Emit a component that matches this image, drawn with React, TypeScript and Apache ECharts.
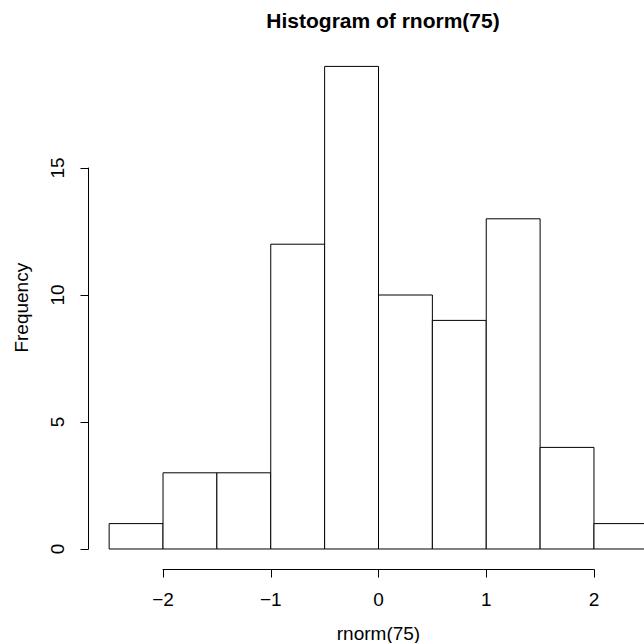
import React, { useEffect, useRef } from "react";
import * as echarts from "echarts";

const breaks = [-2.5, -2, -1.5, -1, -0.5, 0, 0.5, 1, 1.5, 2, 2.5];
const counts = [1, 3, 3, 12, 19, 10, 9, 13, 4, 1];
const xTicks = [-2, -1, 0, 1, 2];
const yTicks = [0, 5, 10, 15];
const titleText = "Histogram of rnorm(75)";
const xLabel = "rnorm(75)";
const yLabel = "Frequency";

const FONT = "'Liberation Sans', Arial, Helvetica, sans-serif";

export default function App() {
  const ref = useRef<HTMLDivElement>(null);
  useEffect(() => {
    if (!ref.current) return;
    const chart = echarts.init(ref.current, null, { renderer: "svg" });
    const binData = counts.map((c, i) => [breaks[i], breaks[i + 1], c]);
    const xMin = xTicks[0];
    const xMax = xTicks[xTicks.length - 1];
    const yMax = yTicks[yTicks.length - 1];
    chart.setOption({
      animation: false,
      backgroundColor: "#fff",
      textStyle: { fontFamily: FONT },
      title: {
        text: titleText,
        left: 378,
        top: 5,
        textAlign: "center",
        textStyle: { fontFamily: FONT, fontWeight: "bold", fontSize: 21, color: "#000" },
      },
      grid: [
        { left: 87.6, top: 47.1, width: 581.8, height: 521.2, outerBoundsMode: "none", containLabel: false },
        { left: 163, top: 560, width: 431, height: 9.5, outerBoundsMode: "none", containLabel: false },
        { left: 88.5, top: 168, width: 10, height: 381, outerBoundsMode: "none", containLabel: false },
      ],
      xAxis: [
        {
          gridIndex: 0,
          type: "value",
          min: -2.7,
          max: 2.7,
          axisLine: { show: false },
          axisTick: { show: false },
          axisLabel: { show: false },
          splitLine: { show: false },
          name: xLabel,
          nameLocation: "middle",
          nameGap: 56,
          nameTextStyle: { fontFamily: FONT, fontSize: 19, color: "#000" },
        },
        {
          gridIndex: 1,
          type: "value",
          min: xMin,
          max: xMax,
          interval: 1,
          axisLine: { show: true, lineStyle: { color: "#000", width: 1 } },
          axisTick: { show: true, length: 8, lineStyle: { color: "#000", width: 1 } },
          axisLabel: {
            show: true,
            margin: 20,
            fontFamily: FONT,
            fontSize: 19,
            color: "#000",
            formatter: (v: number) => (v < 0 ? "\u2212" + Math.abs(v) : String(v)),
          },
          splitLine: { show: false },
        },
        { gridIndex: 2, type: "value", show: false, min: 0, max: 1 },
      ],
      yAxis: [
        {
          gridIndex: 0,
          type: "value",
          min: -0.76,
          max: 19.76,
          axisLine: { show: false },
          axisTick: { show: false },
          axisLabel: { show: false },
          splitLine: { show: false },
          name: yLabel,
          nameLocation: "middle",
          nameRotate: 90,
          nameGap: 57,
          nameTextStyle: { fontFamily: FONT, fontSize: 19, color: "#000" },
        },
        { gridIndex: 1, type: "value", show: false, min: 0, max: 1 },
        {
          gridIndex: 2,
          type: "value",
          min: 0,
          max: yMax,
          interval: 5,
          position: "left",
          axisLine: { show: true, lineStyle: { color: "#000", width: 1 } },
          axisTick: { show: true, length: 8, lineStyle: { color: "#000", width: 1 } },
          axisLabel: {
            show: true,
            rotate: 90,
            margin: 22,
            fontFamily: FONT,
            fontSize: 19,
            color: "#000",
          },
          splitLine: { show: false },
        },
      ],
      series: [
        {
          type: "custom",
          xAxisIndex: 0,
          yAxisIndex: 0,
          clip: false,
          data: binData,
          renderItem: (params: any, api: any) => {
            const x0 = api.value(0);
            const x1 = api.value(1);
            const y = api.value(2);
            const p0 = api.coord([x0, 0]);
            const p1 = api.coord([x1, y]);
            return {
              type: "rect",
              shape: {
                x: p0[0],
                y: p1[1],
                width: p1[0] - p0[0],
                height: p0[1] - p1[1],
              },
              style: { fill: "#fff", stroke: "#000", lineWidth: 1 },
            };
          },
        },
      ],
    });
    return () => chart.dispose();
  }, []);
  return (
    <div
      ref={ref}
      style={{ position: "absolute", left: 0, top: 0, width: 644, height: 643 }}
    />
  );
}
